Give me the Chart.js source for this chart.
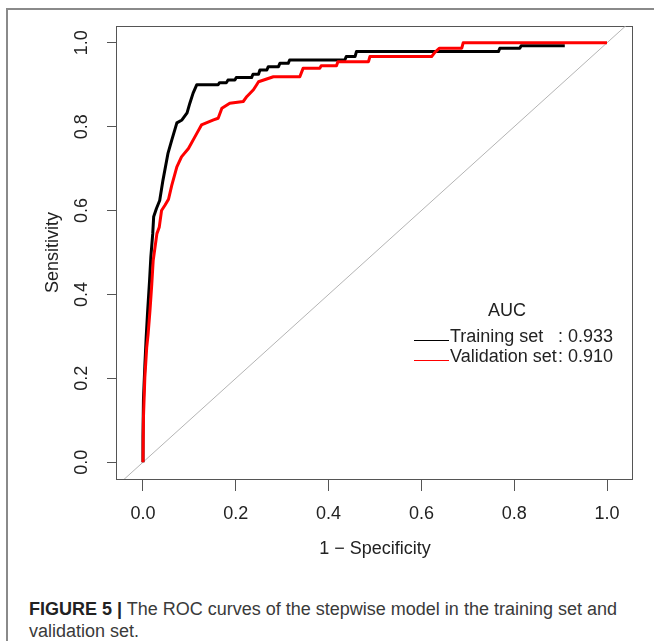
<!DOCTYPE html>
<html>
<head>
<meta charset="utf-8">
<script src="https://cdn.jsdelivr.net/npm/chart.js@4.4.1/dist/chart.umd.min.js"></script>
<style>
  body { margin: 0; background: #fff; width: 654px; height: 641px; overflow: hidden; position: relative; font-family: "Liberation Sans", Arial, sans-serif; }
  #frame { position: absolute; left: 6px; top: 8px; width: 700px; height: 700px; border-top: 2px solid #8a8a8a; border-left: 2px solid #8a8a8a; }
  #plot { position: absolute; left: 0; top: 0; }
  #caption { position: absolute; left: 29px; top: 598px; font-size: 18px; line-height: 22px; color: #3a3a3a; white-space: nowrap; }
  #caption b { color: #222; }
</style>
</head>
<body>
<div id="frame"></div>
<canvas id="plot" width="654" height="580"></canvas>
<div id="caption"><b>FIGURE 5 |</b> The ROC curves of the stepwise model in the training set and<br>validation set.</div>
<script>
// ROC data (x = 1 - specificity, y = sensitivity)
const seriesNames = ["Training set", "Validation set"];
const seriesColors = ["#000000", "#ff0000"];
const aucValues = ["0.933", "0.910"];
const legendTitle = "AUC";

const trainFpr = [0, 0, 0.001, 0.004, 0.007, 0.010, 0.014, 0.017, 0.021, 0.023, 0.029, 0.036, 0.043, 0.054, 0.062, 0.073, 0.084, 0.095, 0.101, 0.108, 0.116, 0.162, 0.165, 0.180, 0.183, 0.198, 0.201, 0.234, 0.237, 0.249, 0.252, 0.267, 0.270, 0.292, 0.295, 0.313, 0.316, 0.435, 0.438, 0.457, 0.460, 0.766, 0.769, 0.812, 0.815, 0.909];
const trainTpr = [0, 0.06, 0.15, 0.23, 0.30, 0.36, 0.43, 0.49, 0.545, 0.585, 0.605, 0.624, 0.672, 0.737, 0.768, 0.809, 0.816, 0.833, 0.856, 0.88, 0.90, 0.90, 0.905, 0.905, 0.911, 0.911, 0.917, 0.917, 0.925, 0.925, 0.935, 0.935, 0.943, 0.943, 0.951, 0.951, 0.959, 0.959, 0.967, 0.967, 0.979, 0.979, 0.987, 0.987, 0.993, 0.993];

const validFpr = [0, 0.001, 0.004, 0.008, 0.011, 0.015, 0.019, 0.022, 0.030, 0.035, 0.040, 0.047, 0.055, 0.062, 0.073, 0.083, 0.098, 0.116, 0.126, 0.152, 0.162, 0.170, 0.187, 0.216, 0.224, 0.238, 0.245, 0.249, 0.265, 0.281, 0.338, 0.345, 0.381, 0.384, 0.417, 0.420, 0.486, 0.489, 0.622, 0.629, 0.639, 0.687, 0.690, 1.0];
const validTpr = [0, 0.106, 0.202, 0.273, 0.305, 0.361, 0.425, 0.481, 0.545, 0.560, 0.600, 0.612, 0.627, 0.66, 0.704, 0.728, 0.748, 0.784, 0.804, 0.816, 0.820, 0.844, 0.856, 0.860, 0.872, 0.888, 0.900, 0.907, 0.913, 0.919, 0.919, 0.939, 0.939, 0.945, 0.945, 0.955, 0.955, 0.967, 0.967, 0.977, 0.987, 0.987, 1.0, 1.0];

const xTicks = [0, 0.2, 0.4, 0.6, 0.8, 1.0];
const yTicks = [0, 0.2, 0.4, 0.6, 0.8, 1.0];
const xRange = [-0.056, 1.056];
const yRange = [-0.04, 1.04];

const FONT = '"Liberation Sans", Arial, sans-serif';
Chart.defaults.font.family = FONT;

const toPoints = (xs, ys) => xs.map((x, i) => ({ x: x, y: ys[i] }));

// plot frame
const boxPlugin = {
  id: "box",
  beforeDatasetsDraw(chart) {
    const a = chart.chartArea;
    const ctx = chart.ctx;
    ctx.save();
    ctx.strokeStyle = "#555";
    ctx.lineWidth = 1;
    ctx.strokeRect(Math.round(a.left) - 0.5, Math.round(a.top) + 0.5, Math.round(a.right - a.left), Math.round(a.bottom - a.top));
    ctx.restore();
  }
};

// R style legend inside the plot
const aucLegend = {
  id: "aucLegend",
  afterDatasetsDraw(chart) {
    const ctx = chart.ctx;
    ctx.save();
    ctx.font = "18px " + FONT;
    ctx.textBaseline = "middle";
    ctx.textAlign = "center";
    ctx.fillStyle = "#222";
    ctx.fillText(legendTitle, 507, 311);
    const rows = [337, 357];
    seriesNames.forEach((name, i) => {
      ctx.strokeStyle = seriesColors[i];
      ctx.lineWidth = 1;
      ctx.beginPath();
      ctx.moveTo(414, rows[i] + 3.5);
      ctx.lineTo(449, rows[i] + 3.5);
      ctx.stroke();
      ctx.fillStyle = "#222";
      ctx.textAlign = "left";
      ctx.fillText(name, 450, rows[i]);
      ctx.textAlign = "right";
      ctx.fillText(": " + aucValues[i], 613, rows[i]);
    });
    ctx.restore();
  }
};

new Chart(document.getElementById("plot"), {
  type: "line",
  data: {
    datasets: [
      {
        label: seriesNames[0],
        data: toPoints(trainFpr, trainTpr),
        borderColor: seriesColors[0],
        borderWidth: 3,
        order: 1
      },
      {
        label: seriesNames[1],
        data: toPoints(validFpr, validTpr),
        borderColor: seriesColors[1],
        borderWidth: 3,
        order: 0
      },
      {
        label: "diagonal",
        data: toPoints(xRange, xRange),
        borderColor: "#b4b4b4",
        borderWidth: 1,
        clip: 0,
        order: 2
      }
    ]
  },
  options: {
    responsive: false,
    animation: false,
    devicePixelRatio: 1,
    elements: { point: { radius: 0 }, line: { tension: 0, borderJoinStyle: "round" } },
    layout: { padding: { top: 26, right: 21, left: 0, bottom: 0 } },
    plugins: { legend: { display: false }, tooltip: { enabled: false } },
    scales: {
      x: {
        type: "linear",
        min: xRange[0],
        max: xRange[1],
        afterBuildTicks: s => { s.ticks = xTicks.map(v => ({ value: v })); },
        afterFit: s => { s.height = 101; },
        grid: { drawOnChartArea: false, drawTicks: true, tickLength: 12, tickColor: "#555" },
        border: { display: false },
        ticks: { padding: 12, color: "#222", font: { size: 18 }, maxRotation: 0, callback: v => v.toFixed(1) },
        title: { display: true, text: "1 \u2212 Specificity", color: "#222", font: { size: 18 }, padding: { top: 0, bottom: 20 } }
      },
      y: {
        min: yRange[0],
        max: yRange[1],
        afterBuildTicks: s => { s.ticks = yTicks.map(v => ({ value: v })); },
        afterFit: s => { s.width = 117; },
        grid: { drawOnChartArea: false, drawTicks: true, tickLength: 10, tickColor: "#555" },
        border: { display: false },
        ticks: { padding: 12, color: "#222", font: { size: 18 }, minRotation: 90, maxRotation: 90, crossAlign: "center", callback: v => v.toFixed(1) },
        title: { display: true, text: "Sensitivity", color: "#222", font: { size: 18 }, padding: { top: 42, bottom: 0 } }
      }
    }
  },
  plugins: [boxPlugin, aucLegend]
});
</script>
</body>
</html>
